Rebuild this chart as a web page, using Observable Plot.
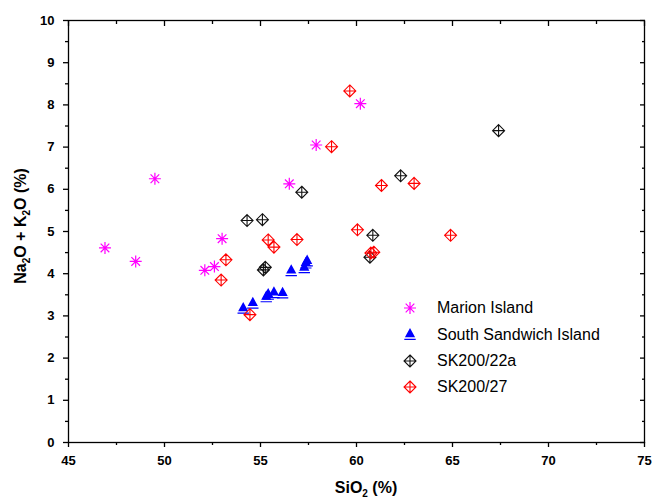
<!DOCTYPE html>
<html><head><meta charset="utf-8">
<script src="https://cdn.jsdelivr.net/npm/d3@7"></script>
<script src="https://cdn.jsdelivr.net/npm/@observablehq/plot@0.6"></script>
<style>
body{margin:0;background:#fff;}
#wrap{position:relative;width:652px;height:501px;font-family:'Liberation Sans', Arial, sans-serif;color:#000;}
#wrap svg.layer{position:absolute;left:0;top:0;}
.lab{position:absolute;font-size:16px;line-height:16px;font-weight:bold;text-align:center;white-space:nowrap;}
.sub{font-size:10px;position:relative;top:4px;}
.lgtext{position:absolute;font-size:16px;line-height:16px;white-space:nowrap;}
.lgsym{position:absolute;width:16px;height:16px;overflow:visible;}
</style>
</head><body><div id="wrap">
<div class="lab" style="left:266px;top:480px;width:200px;">SiO<span class="sub">2</span> (%)</div>
<div class="lab" style="left:-129.5px;top:218px;width:300px;height:16px;transform:rotate(-90deg);">Na<span class="sub">2</span>O + K<span class="sub">2</span>O (%)</div>
</div>
<script>
// ---- data ----
const seriesNames = ["Marion Island", "South Sandwich Island", "SK200/22a", "SK200/27"];
const marionSiO2 = [46.9, 48.5, 49.5, 52.1, 52.6, 53.0, 56.5, 57.9, 60.2];
const marionAlk  = [4.61, 4.29, 6.25, 4.08, 4.17, 4.83, 6.13, 7.05, 8.03];
const sandwichSiO2 = [54.1, 54.6, 55.3, 55.4, 55.7, 56.15, 56.6, 57.28, 57.36, 57.43];
const sandwichAlk  = [3.19, 3.31, 3.46, 3.52, 3.56, 3.55, 4.08, 4.15, 4.26, 4.31];
const sk22aSiO2 = [67.4, 62.3, 60.85, 60.7, 57.15, 54.3, 55.1, 55.15, 55.25];
const sk22aAlk  = [7.39, 6.32, 4.91, 4.39, 5.93, 5.26, 5.28, 4.09, 4.15];
const sk27SiO2 = [59.65, 58.7, 61.3, 63.0, 60.05, 64.9, 60.75, 60.9, 55.4, 55.7, 56.9, 53.2, 52.95, 54.45];
const sk27Alk  = [8.33, 7.01, 6.09, 6.14, 5.04, 4.91, 4.49, 4.51, 4.80, 4.63, 4.81, 4.33, 3.85, 3.03];
const xTicks = [45, 50, 55, 60, 65, 70, 75];
const xMinor = [47.5, 52.5, 57.5, 62.5, 67.5, 72.5];
const yTicks = [0, 1, 2, 3, 4, 5, 6, 7, 8, 9, 10];
const yMinor = [0.5, 1.5, 2.5, 3.5, 4.5, 5.5, 6.5, 7.5, 8.5, 9.5];

const toRows = (xs, ys) => xs.map((x, i) => ({x, y: ys[i]}));
const marion = toRows(marionSiO2, marionAlk);
const sandwich = toRows(sandwichSiO2, sandwichAlk);
const sk22a = toRows(sk22aSiO2, sk22aAlk);
const sk27 = toRows(sk27SiO2, sk27Alk);

// ---- custom symbols ----
const asterisk = {draw(ctx, size) {
  const r = Math.sqrt(size / Math.PI), d = r * 0.72;
  ctx.moveTo(0, -r); ctx.lineTo(0, r);
  ctx.moveTo(-r, 0); ctx.lineTo(r, 0);
  ctx.moveTo(-d, -d); ctx.lineTo(d, d);
  ctx.moveTo(-d, d); ctx.lineTo(d, -d);
}};
const diamondCross = {draw(ctx, size) {
  const r = Math.sqrt(size / Math.PI);
  ctx.moveTo(0, -r); ctx.lineTo(r, 0); ctx.lineTo(0, r); ctx.lineTo(-r, 0); ctx.closePath();
  ctx.moveTo(0, -r); ctx.lineTo(0, r);
  ctx.moveTo(-r, 0); ctx.lineTo(r, 0);
}};
const triFilled = {draw(ctx, size) {
  const r = Math.sqrt(size / Math.PI);
  ctx.moveTo(0, -r); ctx.lineTo(r * 0.85, r * 0.55); ctx.lineTo(-r * 0.85, r * 0.55); ctx.closePath();
  ctx.moveTo(-r * 0.95, r * 0.78); ctx.lineTo(r * 0.95, r * 0.78);
  ctx.lineTo(r * 0.95, r * 0.98); ctx.lineTo(-r * 0.95, r * 0.98); ctx.closePath();
}};

const font = "'Liberation Sans', Arial, sans-serif";
const base = {
  width: 652, height: 501,
  marginLeft: 68, marginRight: 8, marginTop: 20, marginBottom: 59,
  style: {fontFamily: font, fontSize: "13px", fontWeight: "bold", color: "black", background: "transparent"}
};
const wrap = document.getElementById("wrap");
function addLayer(el) { el.classList.add("layer"); wrap.appendChild(el); }

// Layer A: frame + major axes with labels
addLayer(Plot.plot({...base,
  x: {domain: [45, 75]}, y: {domain: [0, 10]},
  marks: [
    Plot.frame({stroke: "black", strokeWidth: 1.3}),
    Plot.axisX({ticks: xTicks, tickSize: 5, tickPadding: 8, label: null, strokeWidth: 1.3}),
    Plot.axisY({ticks: yTicks, tickSize: 5, tickPadding: 9, label: null, strokeWidth: 1.3}),
    Plot.axisX({anchor: "top", ticks: xTicks, tickSize: -5, text: null, label: null, strokeWidth: 1.3})
  ]
}));

// Layer C: minor ticks and right-side ticks
addLayer(Plot.plot({...base,
  x: {domain: [45, 75]}, y: {domain: [0, 10]},
  marks: [
    Plot.axisX({ticks: xMinor, tickSize: 3, text: null, label: null, strokeWidth: 1.3}),
    Plot.axisX({anchor: "top", ticks: xMinor, tickSize: -3, text: null, label: null, strokeWidth: 1.3}),
    Plot.axisY({ticks: yMinor, tickSize: 3, text: null, label: null, strokeWidth: 1.3}),
    Plot.axisY({anchor: "right", ticks: yTicks, tickSize: 5, dx: -5, text: null, label: null, strokeWidth: 1.3}),
    Plot.axisY({anchor: "right", ticks: yMinor, tickSize: 3, dx: -3, text: null, label: null, strokeWidth: 1.3})
  ]
}));

// Layer B: data points
addLayer(Plot.plot({...base,
  x: {domain: [45, 75], axis: null}, y: {domain: [0, 10], axis: null},
  marks: [
    Plot.dot(marion, {x: "x", y: "y", r: 6, symbol: asterisk, stroke: "#ff00ff", fill: "none", strokeWidth: 1.2}),
    Plot.dot(sandwich, {x: "x", y: "y", r: 6, symbol: triFilled, fill: "#0000ff", stroke: "none"}),
    Plot.dot(sk22a, {x: "x", y: "y", r: 6, symbol: diamondCross, stroke: "#111", fill: "none", strokeWidth: 1.1}),
    Plot.dot(sk27, {x: "x", y: "y", r: 6, symbol: diamondCross, stroke: "#ff0000", fill: "none", strokeWidth: 1.1})
  ]
}));

// legend (HTML overlay)
const legendStyles = [
  {sym: asterisk, fill: "none", stroke: "#ff00ff", sw: 1.2},
  {sym: triFilled, fill: "#0000ff", stroke: "none", sw: 0},
  {sym: diamondCross, fill: "none", stroke: "#111", sw: 1.1},
  {sym: diamondCross, fill: "none", stroke: "#ff0000", sw: 1.1}
];
seriesNames.forEach((name, i) => {
  const cy = 308 + i * 26.3;
  const p = d3.path();
  legendStyles[i].sym.draw(p, Math.PI * 36);
  const s = legendStyles[i];
  const sym = document.createElement("div");
  sym.className = "lgsym";
  sym.style.left = "402px"; sym.style.top = (cy - 8) + "px";
  sym.innerHTML = `<svg width="16" height="16" style="overflow:visible"><path d="${p.toString()}" transform="translate(8,8)" fill="${s.fill}" stroke="${s.stroke}" stroke-width="${s.sw}"/></svg>`;
  wrap.appendChild(sym);
  const t = document.createElement("div");
  t.className = "lgtext";
  t.style.left = "437px"; t.style.top = (cy - 7.7) + "px";
  t.textContent = name;
  wrap.appendChild(t);
});
</script>
</body></html>
